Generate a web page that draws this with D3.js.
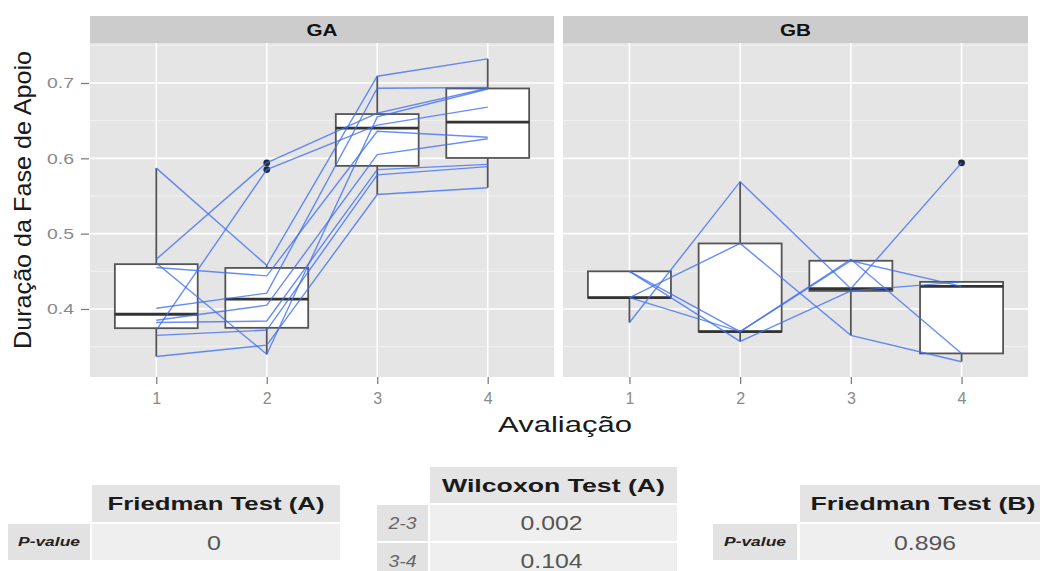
<!DOCTYPE html>
<html><head><meta charset="utf-8">
<script src="https://cdn.jsdelivr.net/npm/d3@7"></script>
<style>
body{margin:0;background:#fff;}
svg{display:block;font-family:"Liberation Sans",Arial,Helvetica,sans-serif;}
</style>
</head><body>
<svg id="chart" width="1040" height="571"></svg>
<script>
// ---------------- data ----------------
const facets = ["GA", "GB"];
const evaluations = [1, 2, 3, 4];
const yTicks = [0.4, 0.5, 0.6, 0.7];
const yMinorTicks = [0.35, 0.45, 0.55, 0.65, 0.75];
const xTitle = "Avaliação";
const yTitle = "Duração da Fase de Apoio";

// GA subjects: values at evaluations 1..4
const gaS1 = [0.587, 0.458, 0.709, 0.732];
const gaS2 = [0.466, 0.594, 0.660, 0.693];
const gaS3 = [0.372, 0.585, 0.644, 0.668];
const gaS4 = [0.461, 0.340, 0.655, 0.692];
const gaS5 = [0.455, 0.444, 0.636, 0.628];
const gaS6 = [0.401, 0.421, 0.693, 0.694];
const gaS7 = [0.385, 0.405, 0.605, 0.626];
const gaS8 = [0.382, 0.384, 0.585, 0.592];
const gaS9 = [0.365, 0.372, 0.578, 0.589];
const gaS10 = [0.337, 0.352, 0.552, 0.561];

// GB subjects
const gbS1 = [0.382, 0.569, 0.427, 0.594];
const gbS2 = [0.415, 0.487, 0.365, 0.330];
const gbS3 = [0.450, 0.370, 0.466, 0.341];
const gbS4 = [0.450, 0.357, 0.424, 0.436];
const gbS5 = [0.415, 0.370, 0.464, 0.430];

const gaSubjects = [gaS1, gaS2, gaS3, gaS4, gaS5, gaS6, gaS7, gaS8, gaS9, gaS10];
const gbSubjects = [gbS1, gbS2, gbS3, gbS4, gbS5];

// tables
const friedmanAHeader = "Friedman Test (A)";
const friedmanARows = ["P-value"];
const friedmanAValues = ["0"];
const wilcoxonHeader = "Wilcoxon Test (A)";
const wilcoxonRows = ["2-3", "3-4"];
const wilcoxonValues = ["0.002", "0.104"];
const friedmanBHeader = "Friedman Test (B)";
const friedmanBRows = ["P-value"];
const friedmanBValues = ["0.896"];

// ---------------- layout ----------------
const svg = d3.select("#chart");
const panelTop = 43, panelBottom = 377, stripTop = 16;
const panelX = { GA: [90, 554], GB: [563, 1028] };
const subjectsByFacet = { GA: gaSubjects, GB: gbSubjects };

const y = d3.scaleLinear().domain([0.3097, 0.7531]).range([panelBottom, panelTop]);

function boxStats(vals) {
  const s = vals.slice().sort(d3.ascending);
  const q1 = d3.quantile(s, 0.25), med = d3.quantile(s, 0.5), q3 = d3.quantile(s, 0.75);
  const iqr = q3 - q1;
  const lf = q1 - 1.5 * iqr, uf = q3 + 1.5 * iqr;
  const inside = s.filter(v => v >= lf && v <= uf);
  return { q1, med, q3, lo: d3.min(inside), hi: d3.max(inside), out: s.filter(v => v < lf || v > uf) };
}

const lineColor = "#3d6ef3";

facets.forEach(f => {
  const [x0, x1] = panelX[f];
  const x = d3.scalePoint().domain(evaluations).range([x0, x1]).padding(0.6);
  const step = x.step();
  const g = svg.append("g");

  g.append("rect").attr("x", x0).attr("y", panelTop).attr("width", x1 - x0)
    .attr("height", panelBottom - panelTop).attr("fill", "#e5e5e5");
  g.selectAll(".ymin").data(yMinorTicks).join("line")
    .attr("x1", x0).attr("x2", x1).attr("y1", d => y(d)).attr("y2", d => y(d))
    .attr("stroke", "#f2f2f2").attr("stroke-width", 1);
  g.selectAll(".ymaj").data(yTicks).join("line")
    .attr("x1", x0).attr("x2", x1).attr("y1", d => y(d)).attr("y2", d => y(d))
    .attr("stroke", "#ffffff").attr("stroke-width", 1.6);
  g.selectAll(".xmaj").data(evaluations).join("line")
    .attr("x1", d => x(d)).attr("x2", d => x(d)).attr("y1", panelTop).attr("y2", panelBottom)
    .attr("stroke", "#ffffff").attr("stroke-width", 1.6);

  g.append("rect").attr("x", x0).attr("y", stripTop).attr("width", x1 - x0)
    .attr("height", panelTop - stripTop).attr("fill", "#cccccc");
  g.append("text").attr("x", (x0 + x1) / 2).attr("y", 35.5).attr("text-anchor", "middle")
    .attr("font-size", 16).attr("font-weight", "bold").attr("fill", "#111")
    .attr("textLength", 31).attr("lengthAdjust", "spacingAndGlyphs").text(f);

  const subjects = subjectsByFacet[f];
  const bw = step * 0.75;
  evaluations.forEach((e, i) => {
    const st = boxStats(subjects.map(s => s[i]));
    const cx = x(e);
    const bg = g.append("g");
    bg.append("line").attr("x1", cx).attr("x2", cx).attr("y1", y(st.hi)).attr("y2", y(st.q3))
      .attr("stroke", "#555555").attr("stroke-width", 1.8);
    bg.append("line").attr("x1", cx).attr("x2", cx).attr("y1", y(st.q1)).attr("y2", y(st.lo))
      .attr("stroke", "#555555").attr("stroke-width", 1.8);
    bg.append("rect").attr("x", cx - bw / 2).attr("y", y(st.q3)).attr("width", bw)
      .attr("height", Math.max(0.5, y(st.q1) - y(st.q3)))
      .attr("fill", "#ffffff").attr("stroke", "#555555").attr("stroke-width", 1.8);
    bg.append("line").attr("x1", cx - bw / 2).attr("x2", cx + bw / 2)
      .attr("y1", y(st.med)).attr("y2", y(st.med))
      .attr("stroke", "#333333").attr("stroke-width", 2.8);
    bg.selectAll("circle").data(st.out).join("circle")
      .attr("cx", cx).attr("cy", d => y(d)).attr("r", 3.4).attr("fill", "#1f2a44");
  });

  const line = d3.line().x((d, i) => x(evaluations[i])).y(d => y(d));
  g.selectAll(".subj").data(subjects).join("path")
    .attr("d", line).attr("fill", "none").attr("stroke", lineColor)
    .attr("stroke-width", 1.4).attr("stroke-opacity", 0.78);

  const xa = svg.append("g").attr("transform", `translate(0,${panelBottom})`)
    .call(d3.axisBottom(x).tickSize(7).tickPadding(9));
  xa.select(".domain").remove();
  xa.selectAll(".tick line").attr("stroke", "#7f7f7f").attr("stroke-width", 1.3);
  xa.selectAll(".tick text").attr("fill", "#8a8a8a").attr("font-size", 16)
    .attr("font-family", "Liberation Sans, Arial, sans-serif");
});

const ya = svg.append("g").attr("transform", `translate(${panelX.GA[0] - 1},0)`)
  .call(d3.axisLeft(y).tickValues(yTicks).tickFormat(d3.format(".1f")).tickSize(8).tickPadding(7));
ya.select(".domain").remove();
ya.selectAll(".tick line").attr("stroke", "#7f7f7f").attr("stroke-width", 1.3);
ya.selectAll(".tick text").attr("fill", "#8a8a8a").attr("font-size", 15)
  .attr("font-family", "Liberation Sans, Arial, sans-serif")
  .attr("textLength", 27).attr("lengthAdjust", "spacingAndGlyphs");

svg.append("text").attr("x", 565).attr("y", 432).attr("text-anchor", "middle")
  .attr("font-size", 22).attr("fill", "#1a1a1a")
  .attr("textLength", 134).attr("lengthAdjust", "spacingAndGlyphs").text(xTitle);
svg.append("text").attr("transform", "translate(31,200) rotate(-90)").attr("text-anchor", "middle")
  .attr("font-size", 24).attr("fill", "#1a1a1a")
  .attr("textLength", 298).attr("lengthAdjust", "spacingAndGlyphs").text(yTitle);

// ---------------- tables ----------------
function drawTable(cfg) {
  const t = svg.append("g");
  t.append("rect").attr("x", cfg.vx).attr("y", cfg.hy).attr("width", cfg.vw).attr("height", cfg.hh)
    .attr("fill", "#e4e4e4");
  t.append("text").attr("x", cfg.vx + cfg.vw / 2 + (cfg.hdx || 0)).attr("y", cfg.hy + cfg.hh / 2 + 6.5)
    .attr("text-anchor", "middle").attr("font-size", 18).attr("font-weight", "bold").attr("fill", "#1a1a1a")
    .attr("textLength", cfg.htl).attr("lengthAdjust", "spacingAndGlyphs").text(cfg.header);
  cfg.rows.forEach((r, i) => {
    const ry = cfg.hy + cfg.hh + 2 + i * (cfg.rh + 2);
    t.append("rect").attr("x", cfg.lx).attr("y", ry).attr("width", cfg.lw).attr("height", cfg.rh)
      .attr("fill", "#e2e2e2");
    t.append("rect").attr("x", cfg.vx).attr("y", ry).attr("width", cfg.vw).attr("height", cfg.rh)
      .attr("fill", "#efefef");
    t.append("text").attr("x", cfg.lx + cfg.lw / 2).attr("y", ry + cfg.rh / 2 + cfg.lbo)
      .attr("text-anchor", "middle").attr("font-size", cfg.lfs).attr("font-style", "italic")
      .attr("font-weight", cfg.lfw).attr("fill", cfg.lfill)
      .attr("textLength", cfg.ltl).attr("lengthAdjust", "spacingAndGlyphs").text(r);
    const v = cfg.values[i];
    t.append("text").attr("x", cfg.vx + cfg.vw / 2 + (cfg.vdx || 0)).attr("y", ry + cfg.rh / 2 + (cfg.vbo || 7.5))
      .attr("text-anchor", "middle").attr("font-size", 21).attr("fill", "#555555")
      .attr("textLength", v.length > 1 ? 62 : 14).attr("lengthAdjust", "spacingAndGlyphs").text(v);
  });
}

drawTable({ header: friedmanAHeader, rows: friedmanARows, values: friedmanAValues,
  vx: 92, vw: 248, hy: 485, hh: 37, htl: 217, lx: 8, lw: 82, rh: 36,
  lfs: 12, lfw: "bold", lfill: "#222", ltl: 62, lbo: 4, vdx: -2 });
drawTable({ header: wilcoxonHeader, rows: wilcoxonRows, values: wilcoxonValues,
  vx: 430, vw: 247, hy: 467, hh: 36, htl: 223, lx: 377, lw: 51, rh: 36,
  lfs: 16, lfw: "normal", lfill: "#666", ltl: 28, lbo: 6, vdx: -2, vbo: 7 });
drawTable({ header: friedmanBHeader, rows: friedmanBRows, values: friedmanBValues,
  vx: 800, vw: 240, hy: 485, hh: 37, htl: 225, lx: 713, lw: 84, rh: 36,
  lfs: 12, lfw: "bold", lfill: "#222", ltl: 62, lbo: 4, hdx: 3, vdx: 5 });
</script>
</body></html>
